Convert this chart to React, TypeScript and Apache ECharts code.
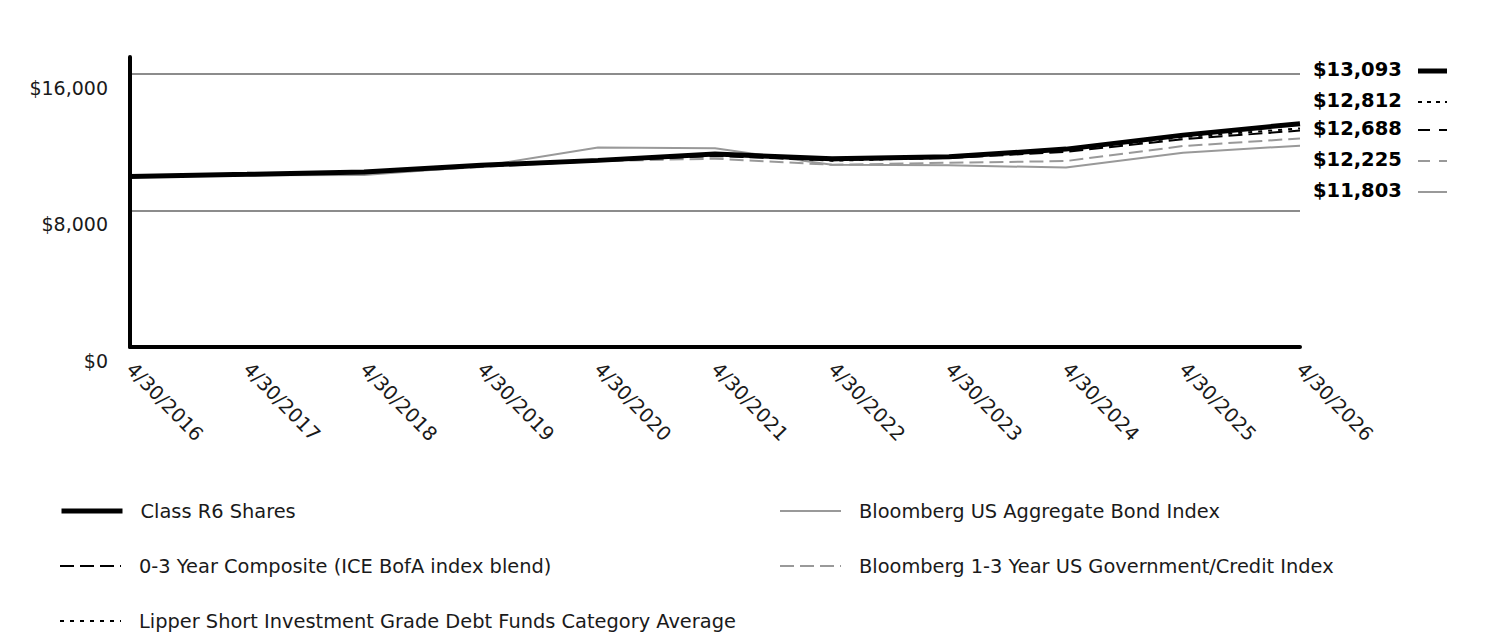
import React, { useEffect, useRef } from "react";
import * as echarts from "echarts";

const categories = [
  "4/30/2016", "4/30/2017", "4/30/2018", "4/30/2019", "4/30/2020", "4/30/2021",
  "4/30/2022", "4/30/2023", "4/30/2024", "4/30/2025", "4/30/2026",
];
const seriesNames = [
  "Class R6 Shares",
  "Lipper Short Investment Grade Debt Funds Category Average",
  "0-3 Year Composite (ICE BofA index blend)",
  "Bloomberg 1-3 Year US Government/Credit Index",
  "Bloomberg US Aggregate Bond Index",
];
const classR6 = [10000, 10120, 10260, 10650, 10940, 11320, 11030, 11150, 11600, 12420, 13093];
const lipper = [10000, 10110, 10240, 10620, 10910, 11260, 10920, 11100, 11540, 12300, 12812];
const composite = [10000, 10090, 10220, 10600, 10900, 11200, 10950, 11080, 11440, 12180, 12688];
const govCredit = [10000, 10070, 10150, 10550, 10900, 11040, 10680, 10800, 10900, 11780, 12225];
const aggregate = [10000, 10060, 10080, 10590, 11700, 11650, 10680, 10650, 10520, 11390, 11803];
const yTicks = [0, 8000, 16000];

const FONT = "DejaVu Sans";
const BLACK = "#000000";
const GRAY = "#999999";
const TEXT = "#1a1a1a";

const styles = [
  { color: BLACK, width: 5, dash: "solid" as any, z: 10 },
  { color: BLACK, width: 2, dash: [4, 6], z: 8 },
  { color: BLACK, width: 2, dash: [14, 6], z: 7 },
  { color: GRAY, width: 2, dash: [14, 6], z: 6 },
  { color: GRAY, width: 2, dash: "solid" as any, z: 5 },
];
const endDash = ["solid", [4, 5], [12, 9], [12, 9], "solid"];
const seriesData = [classR6, lipper, composite, govCredit, aggregate];

const fmt = (v: number) => "$" + v.toLocaleString("en-US");

export default function App() {
  const ref = useRef<HTMLDivElement>(null);
  useEffect(() => {
    if (!ref.current) return;
    const chart = echarts.init(ref.current, undefined, { renderer: "svg" });

    const series = seriesNames.map((name, i) => ({
      name,
      type: "line",
      data: seriesData[i],
      symbol: "none",
      showSymbol: false,
      z: styles[i].z,
      lineStyle: { color: styles[i].color, width: styles[i].width, type: styles[i].dash },
      itemStyle: { color: styles[i].color },
    }));

    // legend placement: [seriesIndex, left, centerY]
    const legendPos: [number, number, number][] = [
      [0, 59, 511],
      [2, 59, 566],
      [1, 59, 621],
      [4, 779, 511],
      [3, 779, 566],
    ];
    const legends = legendPos.map(([si, left, cy]) => ({
      data: [seriesNames[si]],
      left,
      top: cy - 10,
      padding: 0,
      itemWidth: 61,
      itemHeight: 20,
      selectedMode: false,
      itemStyle: { opacity: 0 },
      lineStyle: { width: styles[si].width },
      textStyle: {
        fontFamily: FONT,
        fontSize: 19.4,
        color: TEXT,
        padding: [0, 0, 0, 13],
        lineHeight: 20,
      },
    }));

    const endY = [71, 102, 130, 161, 192];
    const graphics: any[] = [];
    seriesNames.forEach((_, i) => {
      const data = seriesData[i];
      graphics.push({
        type: "text",
        left: 1313,
        top: endY[i] - 12,
        style: {
          text: fmt(data[data.length - 1]),
          fontFamily: FONT,
          fontWeight: "bold",
          fontSize: 19.5,
          fill: BLACK,
        },
      });
      graphics.push({
        type: "line",
        shape: { x1: 1418, y1: endY[i], x2: 1447, y2: endY[i] },
        style: {
          stroke: styles[i].color,
          lineWidth: styles[i].width,
          lineDash: endDash[i] === "solid" ? null : endDash[i],
        },
      });
    });

    chart.setOption({
      animation: false,
      grid: { left: 130, right: 212, top: 57, bottom: 289, containLabel: false },
      xAxis: {
        type: "category",
        data: categories,
        boundaryGap: false,
        axisLine: { show: true, lineStyle: { color: BLACK, width: 4 } },
        axisTick: { show: false },
        axisLabel: {
          interval: 0,
          rotate: -46,
          margin: 19,
          fontFamily: FONT,
          fontSize: 19.5,
          color: TEXT,
        },
        splitLine: { show: false },
      },
      yAxis: {
        type: "value",
        min: 0,
        max: 17000,
        interval: 8000,
        axisLine: { show: true, lineStyle: { color: BLACK, width: 4 } },
        axisTick: { show: false },
        axisLabel: {
          showMaxLabel: false,
          margin: 22,
          verticalAlign: "top",
          padding: [4, 0, 0, 0],
          fontFamily: FONT,
          fontSize: 19,
          color: TEXT,
          formatter: (v: number) => (yTicks.includes(v) ? fmt(v) : ""),
        },
        splitLine: {
          show: true,
          showMinLine: false,
          showMaxLine: false,
          lineStyle: { color: "#666666", width: 1.5 },
        },
      },
      legend: legends,
      series,
      graphic: graphics,
    });

    return () => chart.dispose();
  }, []);
  return (
    <div
      ref={ref}
      style={{ position: "absolute", left: 0, top: 0, width: 1512, height: 636 }}
    />
  );
}
